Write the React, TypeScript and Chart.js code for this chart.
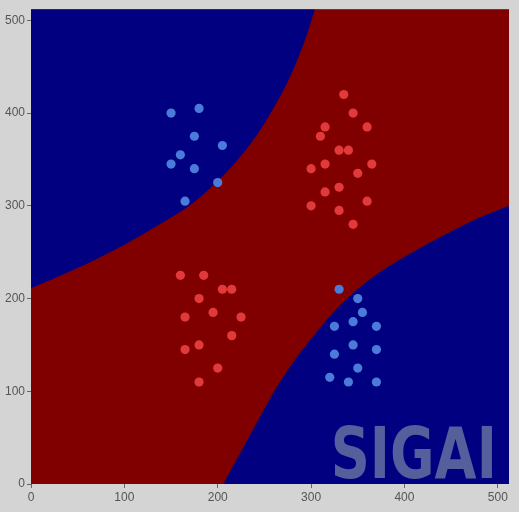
import { useEffect, useRef } from 'react';
import { Chart, registerables } from 'chart.js';

Chart.register(...registerables);

// Red class samples
const redX = [335, 345, 315, 360, 310, 330, 340, 315, 365, 300, 350, 330, 315, 300, 360, 330, 345,
  160, 185, 205, 215, 180, 165, 195, 225, 215, 180, 165, 200, 180];
const redY = [420, 400, 385, 385, 375, 360, 360, 345, 345, 340, 335, 320, 315, 300, 305, 295, 280,
  225, 225, 210, 210, 200, 180, 185, 180, 160, 150, 145, 125, 110];

// Blue class samples
const blueX = [150, 180, 175, 205, 160, 150, 175, 200, 165,
  330, 350, 355, 325, 345, 370, 345, 325, 370, 350, 320, 340, 370];
const blueY = [400, 405, 375, 365, 355, 345, 340, 325, 305,
  210, 200, 185, 170, 175, 170, 150, 140, 145, 125, 115, 110, 110];

// Decision boundary (upper-left blue region lower edge)
const upperBoundaryX = [0, 30, 65, 100, 136, 172, 195, 213, 241, 263, 281, 295, 304, 309];
const upperBoundaryY = [211, 224, 240, 258, 279, 302, 322, 340, 375, 411, 447, 483, 512, 528];

// Decision boundary (lower-right blue region upper edge)
const lowerBoundaryX = [197, 206, 226, 245, 263, 282, 302, 323, 343, 366, 402, 438, 473, 512];
const lowerBoundaryY = [-17, 0, 37, 72, 104, 133, 159, 184, 204, 223, 246, 266, 284, 300];

const tickValues = [0, 100, 200, 300, 400, 500];
const watermark = 'SIGAI';

const toPts = (xs: number[], ys: number[]) => xs.map((x, i) => ({ x, y: ys[i] }));

const areaBg = {
  id: 'areaBg',
  beforeDatasetsDraw(chart: any) {
    const { ctx, chartArea } = chart;
    ctx.save();
    ctx.fillStyle = '#800000';
    ctx.fillRect(chartArea.left, chartArea.top, chartArea.right - chartArea.left, chartArea.bottom - chartArea.top);
    ctx.restore();
  },
};

const watermarkPlugin = {
  id: 'watermark',
  afterDatasetsDraw(chart: any) {
    const { ctx } = chart;
    const xs = chart.scales.x;
    const ys = chart.scales.y;
    const left = xs.getPixelForValue(321);
    const right = xs.getPixelForValue(499);
    const base = ys.getPixelForValue(7);
    ctx.save();
    ctx.font = 'bold 71px "DejaVu Sans"';
    const w = ctx.measureText(watermark).width;
    ctx.translate(left, base);
    ctx.scale((right - left) / w, 1);
    ctx.fillStyle = '#555f9c';
    ctx.textBaseline = 'alphabetic';
    ctx.fillText(watermark, 0, 0);
    ctx.restore();
  },
};

export default function App() {
  const ref = useRef<HTMLCanvasElement | null>(null);

  useEffect(() => {
    if (!ref.current) return;
    const axisCommon = (isX: boolean) => ({
      type: 'linear' as const,
      min: 0,
      max: 512,
      grid: { display: true, drawOnChartArea: false, drawTicks: true, tickLength: 4, color: '#666' },
      border: { display: false },
      ticks: {
        stepSize: 100,
        color: '#555',
        padding: 2,
        font: { family: '"Liberation Sans", Arial, sans-serif', size: 12 },
      },
      afterBuildTicks: (scale: any) => {
        scale.ticks = tickValues.map((v) => ({ value: v }));
      },
      afterFit: (scale: any) => {
        if (isX) scale.height = 28;
        else scale.width = 31;
      },
    });

    const chart = new Chart(ref.current, {
      type: 'scatter',
      data: {
        datasets: [
          {
            label: 'red',
            data: toPts(redX, redY),
            backgroundColor: '#e23a3a',
            borderWidth: 0,
            pointRadius: 4.6,
            order: 0,
          },
          {
            label: 'blue',
            data: toPts(blueX, blueY),
            backgroundColor: '#4a7bd8',
            borderWidth: 0,
            pointRadius: 4.6,
            order: 0,
          },
          {
            type: 'line',
            label: 'upper',
            data: toPts(upperBoundaryX, upperBoundaryY),
            borderWidth: 0,
            borderColor: 'rgba(0,0,0,0)',
            pointRadius: 0,
            fill: 'end',
            backgroundColor: '#000080',
            cubicInterpolationMode: 'monotone',
            order: 5,
          } as any,
          {
            type: 'line',
            label: 'lower',
            data: toPts(lowerBoundaryX, lowerBoundaryY),
            borderWidth: 0,
            borderColor: 'rgba(0,0,0,0)',
            pointRadius: 0,
            fill: 'start',
            backgroundColor: '#000080',
            cubicInterpolationMode: 'monotone',
            order: 5,
          } as any,
        ],
      },
      options: {
        animation: false,
        responsive: false,
        maintainAspectRatio: false,
        devicePixelRatio: 1,
        layout: { padding: { top: 5, right: 10, left: 0, bottom: 0 } },
        plugins: {
          legend: { display: false },
          tooltip: { enabled: false },
        },
        scales: {
          x: { ...axisCommon(true), position: 'bottom' },
          y: { ...axisCommon(false), position: 'left' },
        } as any,
      },
      plugins: [areaBg, watermarkPlugin],
    });
    return () => chart.destroy();
  }, []);

  return (
    <div style={{ position: 'fixed', left: 0, top: 0, width: 519, height: 512, background: '#d4d4d4' }}>
      <canvas ref={ref} width={519} height={512} style={{ display: 'block' }} />
    </div>
  );
}
